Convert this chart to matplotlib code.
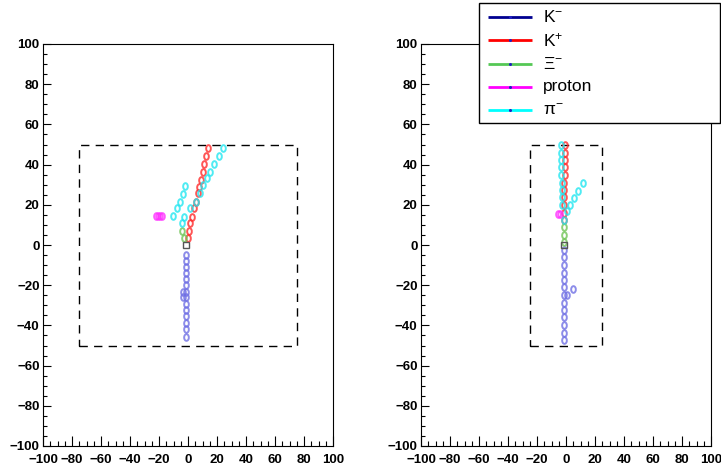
import matplotlib
matplotlib.use("Agg")
import matplotlib.pyplot as plt
from matplotlib.path import Path
from matplotlib.markers import MarkerStyle
from matplotlib.ticker import MultipleLocator
import numpy as np

W, H = 721, 471

# ---- event display data (cm) ----
# left view
left_km_x = [-1.2, -1.3, -1.3, -1.4, -1.4, -1.5, -1.4, -3.7, -1.5, -3.5, -1.5, -1.4, -1.4, -1.5, -1.4, -1.4]
left_km_y = [-5.0, -8.0, -10.8, -13.8, -17.1, -19.9, -23.2, -23.2, -26.0, -26.0, -29.4, -32.3, -35.3, -38.7, -42.0, -45.6]
left_kp_x = [-0.2, 0.5, 1.4, 3.0, 4.4, 5.3, 6.7, 7.8, 8.8, 10.1, 11.2, 12.4, 13.6]
left_kp_y = [3.3, 7.0, 10.8, 14.1, 18.3, 21.5, 25.7, 29.0, 32.3, 36.2, 40.3, 44.5, 48.1]
left_xi_x = [-2.5, -4.4]
left_xi_y = [3.3, 7.0]
left_p_x = [-21.8, -20.4, -19.0, -17.6]
left_p_y = [14.4, 14.4, 14.4, 14.4]
left_pi_x = [-4.4, -2.5, 1.4, 5.2, 8.3, 10.6, 12.9, 15.2, 18.1, 21.6, 23.9,
             -10.1, -7.8, -5.5, -3.7, -1.8]
left_pi_y = [10.8, 14.1, 18.3, 21.5, 25.7, 29.8, 33.2, 36.5, 40.3, 44.3, 48.1,
             14.4, 18.3, 21.5, 25.4, 29.4]
left_vtx = (-1.2, 0.0)
left_box = (75, 50)

# right view
right_km_x = [-1.2, -1.3, -1.4, -1.5, -1.5, -1.6, -1.6, 0.5, -1.6, -1.6, -1.6, -1.6, -1.6, -1.6, 4.6]
right_km_y = [-2.5, -6.1, -10.0, -13.8, -17.4, -21.0, -24.9, -24.9, -28.7, -32.3, -36.0, -39.8, -43.6, -47.3, -22.0]
right_kp_x = [-1.3, -1.3, -1.2, -1.2, -1.1, -1.1, -1.0, -1.0, -0.9, -0.9, -0.8]
right_kp_y = [12.4, 16.1, 19.9, 23.7, 27.4, 31.0, 34.8, 38.6, 42.3, 45.9, 49.8]
right_xi_x = [-1.2, -1.2, -1.2]
right_xi_y = [1.6, 5.0, 8.8]
right_p_x = [-5.2, -4.2]
right_p_y = [15.4, 15.4]
right_pi_x = [-3.6, -3.5, -3.4, -3.3, -3.2, -3.1, -3.0, -2.9, -2.6,
              11.5, 8.5, 5.7, 3.0, 0.5, -1.2]
right_pi_y = [49.8, 45.9, 42.3, 38.6, 34.8, 31.0, 27.4, 23.7, 19.9,
              31.0, 27.0, 23.2, 19.9, 16.9, 12.4]
right_vtx = (-1.2, 0.0)
right_box = (25, 50)

species = ["K$^{-}$", "K$^{+}$", "\u039e$^{-}$", "proton", "\u03c0$^{-}$"]
line_colors = ["#000090", "#ff0000", "#55c855", "#ff00ff", "#00ffff"]
hit_colors = ["#7070e4", "#ff2a2a", "#70c456", "#ff30ff", "#22e6f0"]

ticks = [-100, -80, -60, -40, -20, 0, 20, 40, 60, 80, 100]

# ---- style ----
plt.rcParams["font.family"] = ["Liberation Sans", "DejaVu Sans"]
plt.rcParams["mathtext.fontset"] = "custom"
plt.rcParams["mathtext.rm"] = "Liberation Sans"
plt.rcParams["mathtext.it"] = "Liberation Sans"
plt.rcParams["mathtext.bf"] = "Liberation Sans:bold"
plt.rcParams["axes.unicode_minus"] = True

theta = np.linspace(0, 2 * np.pi, 40)
ell = MarkerStyle(Path(np.column_stack([0.7 * np.cos(theta), np.sin(theta)])))

fig = plt.figure(figsize=(W / 100, H / 100), dpi=100)


def px_axes(x0, y0, x1, y1):
    return fig.add_axes([x0 / W, 1 - y1 / H, (x1 - x0) / W, (y1 - y0) / H])


def draw_view(ax, tracks, vtx, box):
    ax.set_xlim(-100, 100)
    ax.set_ylim(-100, 100)
    bx, by = box
    ax.plot([-bx, bx, bx, -bx, -bx], [-by, -by, by, by, -by], color="black",
            lw=1.0, ls=(0, (6, 4.5)), zorder=2)
    for (xs, ys), c in zip(tracks, hit_colors):
        ax.plot(xs, ys, ls="none", marker=ell, ms=4.8, mfc="none", mec=c,
                mew=1.4, alpha=0.8, zorder=3)
    ax.plot([vtx[0]], [vtx[1]], ls="none", marker="s", ms=5, mfc="none",
            mec="#555555", mew=1.0, zorder=4)
    ax.set_xticks(ticks)
    ax.set_yticks(ticks)
    ax.xaxis.set_minor_locator(MultipleLocator(5))
    ax.yaxis.set_minor_locator(MultipleLocator(5))
    ax.tick_params(which="both", direction="in", top=False, right=False,
                   width=0.8, labelsize=9.5)
    ax.tick_params(axis="x", which="major", length=7.5, pad=6)
    ax.tick_params(axis="x", which="minor", length=3.5)
    ax.tick_params(axis="y", which="major", length=6, pad=2.5)
    ax.tick_params(axis="y", which="minor", length=3)
    for lab in ax.get_xticklabels() + ax.get_yticklabels():
        lab.set_fontweight("bold")
    for s in ax.spines.values():
        s.set_linewidth(0.8)


ax_l = px_axes(43, 44, 333, 446)
draw_view(ax_l,
          [(left_km_x, left_km_y), (left_kp_x, left_kp_y), (left_xi_x, left_xi_y),
           (left_p_x, left_p_y), (left_pi_x, left_pi_y)],
          left_vtx, left_box)

ax_r = px_axes(421, 44, 711, 446)
draw_view(ax_r,
          [(right_km_x, right_km_y), (right_kp_x, right_kp_y), (right_xi_x, right_xi_y),
           (right_p_x, right_p_y), (right_pi_x, right_pi_y)],
          right_vtx, right_box)

# ---- legend box in pixel space ----
leg = fig.add_axes([0, 0, 1, 1], zorder=10)
leg.set_xlim(0, W)
leg.set_ylim(H, 0)
leg.axis("off")
leg.add_patch(plt.Rectangle((479, 3), 241, 120, facecolor="white",
                            edgecolor="black", lw=1.0))
for i, (name, c) in enumerate(zip(species, line_colors)):
    yy = 17 + i * 23.3
    leg.plot([488, 532], [yy, yy], color=c, lw=2.0, solid_capstyle="butt")
    leg.plot([510], [yy], marker="o", ms=1.2, color="#2020c0", ls="none")
    leg.text(543, yy, name, fontsize=12.5, va="center", ha="left")

fig.savefig("out.png", dpi=100)
